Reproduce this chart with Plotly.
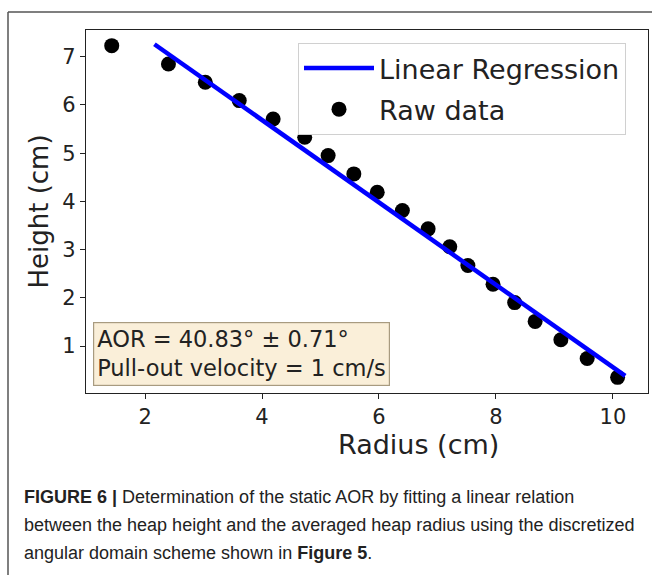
import plotly.graph_objects as go

# ---- data ----
radius_cm = [1.43, 2.40, 3.03, 3.61, 4.19, 4.73, 5.13, 5.57, 5.97, 6.40,
             6.84, 7.21, 7.52, 7.95, 8.32, 8.67, 9.11, 9.56, 10.08]
height_cm = [7.23, 6.85, 6.47, 6.09, 5.71, 5.33, 4.95, 4.57, 4.19, 3.81,
             3.43, 3.06, 2.67, 2.28, 1.90, 1.51, 1.13, 0.74, 0.35]
fit_radius = [2.16, 10.21]
fit_height = [7.26, 0.38]
x_ticks = [2, 4, 6, 8, 10]
y_ticks = [1, 2, 3, 4, 5, 6, 7]

W, H = 652, 575
L, R, T, B = 86, 648, 30, 393   # plot area in pixels


def px(xp):
    return (xp - L) / (R - L)


def py(yp):
    return (B - yp) / (B - T)


FONT = "DejaVu Sans"
fig = go.Figure()

fig.add_trace(go.Scatter(
    x=radius_cm, y=height_cm, mode="markers", name="Raw data",
    marker=dict(color="black", size=15), legendrank=2, legendgroup="b",
    cliponaxis=False))
fig.add_trace(go.Scatter(
    x=fit_radius, y=fit_height, mode="lines", name="Linear Regression",
    line=dict(color="#0000ff", width=4.5), legendrank=1, legendgroup="a"))

axis_common = dict(showline=True, linecolor="#222", linewidth=1.2, mirror=True,
                   ticks="outside", ticklen=5, tickcolor="#222", tickwidth=1,
                   showgrid=False, zeroline=False,
                   tickfont=dict(family=FONT, size=21, color="#222"))

fig.update_xaxes(range=[0.99, 10.6], tickvals=x_ticks, **axis_common)
fig.update_yaxes(range=[0.025, 7.555], tickvals=y_ticks,
                 title=dict(text="Height (cm)", font=dict(family=FONT, size=26, color="#222"),
                            standoff=6),
                 **axis_common)

fig.update_layout(
    width=W, height=H,
    margin=dict(l=L, r=W - R, t=T, b=H - B, autoexpand=False),
    paper_bgcolor="white", plot_bgcolor="white",
    showlegend=True,
    legend=dict(x=px(298), y=py(43), xanchor="left", yanchor="top",
                bgcolor="white", bordercolor="#d0d0d0", borderwidth=1,
                font=dict(family=FONT, size=27, color="#222"),
                traceorder="grouped", tracegroupgap=3, itemwidth=70),
)

# x-axis title (placed as in the reference)
fig.add_annotation(xref="paper", yref="paper", x=px(418), y=py(444),
                   xanchor="center", yanchor="middle", text="Radius (cm)",
                   showarrow=False, font=dict(family=FONT, size=27, color="#222"))

# text box
fig.add_annotation(
    xref="paper", yref="paper", x=px(93), y=py(386), xanchor="left", yanchor="bottom",
    text="AOR = 40.83° ± 0.71°<br>Pull-out velocity = 1 cm/s", align="left",
    showarrow=False, font=dict(family=FONT, size=22.5, color="#222"),
    bgcolor="#faefd9", bordercolor="#a89b80", borderwidth=1.2, borderpad=3)

# caption
CAP = "Liberation Sans"
cap_lines = [
    "<b>FIGURE 6 |</b> Determination of the static AOR by fitting a linear relation",
    "between the heap height and the averaged heap radius using the discretized",
    "angular domain scheme shown in <b>Figure 5</b>.",
]
cap_y = [497, 525, 553]
for t, yy in zip(cap_lines, cap_y):
    fig.add_annotation(xref="paper", yref="paper", x=px(22), y=py(yy),
                       xanchor="left", yanchor="middle", text=t, showarrow=False,
                       font=dict(family=CAP, size=18, color="#222"))

# page frame lines
fig.add_shape(type="line", xref="paper", yref="paper", x0=px(8), x1=px(652),
              y0=py(12), y1=py(12), line=dict(color="#555", width=1.5), layer="above")
fig.add_shape(type="line", xref="paper", yref="paper", x0=px(8), x1=px(8),
              y0=py(12), y1=py(575), line=dict(color="#555", width=1.5), layer="above")

fig.write_html("out.html")
